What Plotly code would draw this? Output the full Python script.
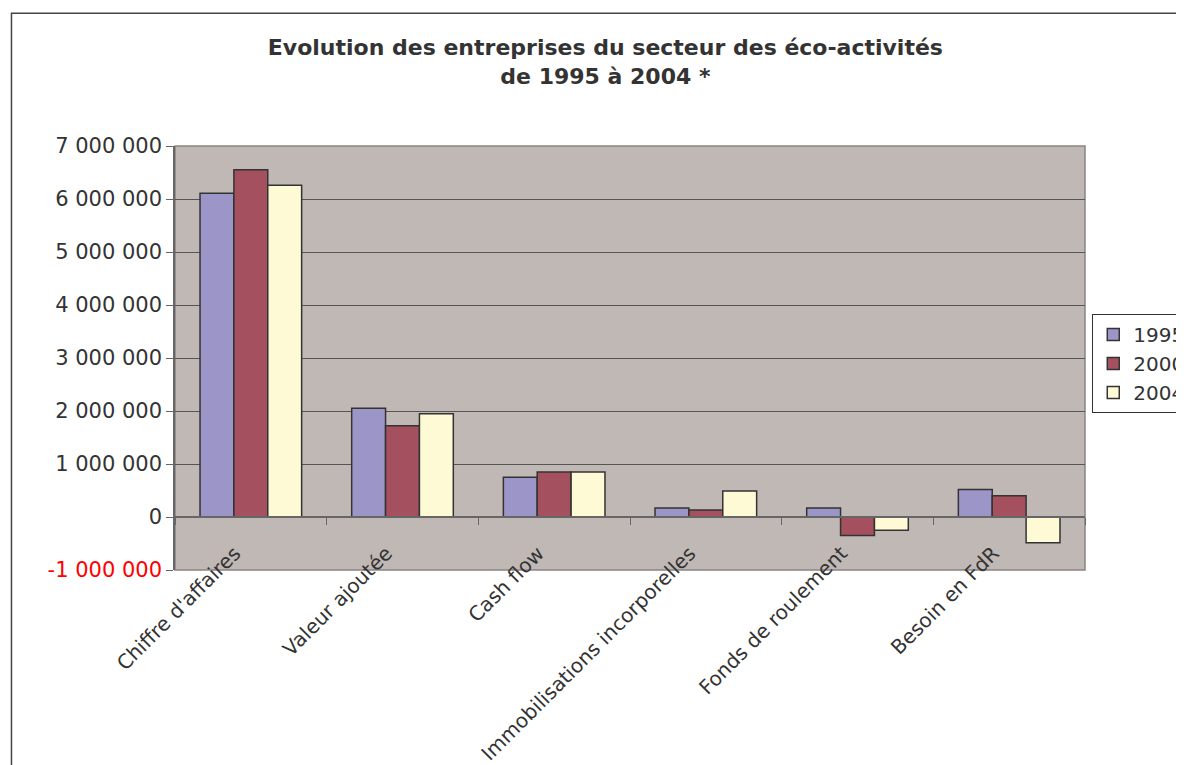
import plotly.graph_objects as go

categories = ["Chiffre d'affaires", "Valeur ajoutée", "Cash flow",
              "Immobilisations incorporelles", "Fonds de roulement", "Besoin en FdR"]
years = ["1995", "2000", "2004"]
v1995 = [6110000, 2050000, 750000, 170000, 170000, 520000]
v2000 = [6550000, 1720000, 850000, 130000, -350000, 400000]
v2004 = [6260000, 1950000, 850000, 490000, -250000, -485000]
colors = ["#9C95C8", "#A5505F", "#FFFAD6"]

y_ticks = [-1000000, 0, 1000000, 2000000, 3000000, 4000000, 5000000, 6000000, 7000000]


def fmt(v):
    s = f"{v:,}".replace(",", " ")
    if v < 0:
        return f"<span style='color:#FF0000'>{s}</span>"
    return s


fig = go.Figure()
for name, vals, col in zip(years, [v1995, v2000, v2004], colors):
    fig.add_trace(go.Bar(x=categories, y=vals, name=name,
                         marker=dict(color=col, line=dict(color="#333333", width=1.5))))

# plot area frame
fig.add_shape(type="rect", xref="paper", yref="paper", x0=0, x1=1, y0=0, y1=1,
              line=dict(color="#8C8482", width=1.5), layer="below")
# outer chart border
fig.add_shape(type="rect", xref="paper", yref="paper", x0=-0.1797, x1=1.3, y0=-0.6, y1=1.313,
              line=dict(color="#444444", width=1.5), fillcolor="rgba(0,0,0,0)")

fig.update_layout(
    width=1176, height=757,
    paper_bgcolor="white", plot_bgcolor="#C0B8B5",
    font=dict(family="DejaVu Sans", size=20, color="#333333"),
    title=dict(text="<b>Evolution des entreprises du secteur des éco-activités<br>de 1995 à 2004 *</b>",
               x=0.508, xanchor="center", y=0.938, yanchor="top",
               font=dict(size=22, color="#333333")),
    margin=dict(l=167, r=99, t=138, b=195, autoexpand=False),
    barmode="group", bargap=0.33, bargroupgap=0,
    showlegend=True,
    legend=dict(x=1.008, y=0.604, xanchor="left", yanchor="top",
                bgcolor="white", bordercolor="#333333", borderwidth=1,
                font=dict(size=20, color="#333333"), tracegroupgap=0),
)
fig.update_xaxes(type="category", anchor="free", position=0.125,
                 showline=True, linecolor="#666666", linewidth=1.5,
                 ticks="outside", tickson="boundaries", ticklen=7, tickcolor="#666666",
                 tickangle=-45, ticklabelstandoff=16, ticklabelshift=-16, showgrid=False,
                 tickfont=dict(size=20, color="#333333"))
fig.update_yaxes(range=[-1000000, 7000000], tickvals=y_ticks, ticktext=[fmt(v) for v in y_ticks],
                 showgrid=True, gridcolor="#555555", gridwidth=1, zeroline=False,
                 showline=True, linecolor="#666666", linewidth=1.5,
                 ticks="outside", ticklen=7, tickcolor="#666666",
                 tickfont=dict(size=21, color="#333333"))

fig.write_html("out.html")
